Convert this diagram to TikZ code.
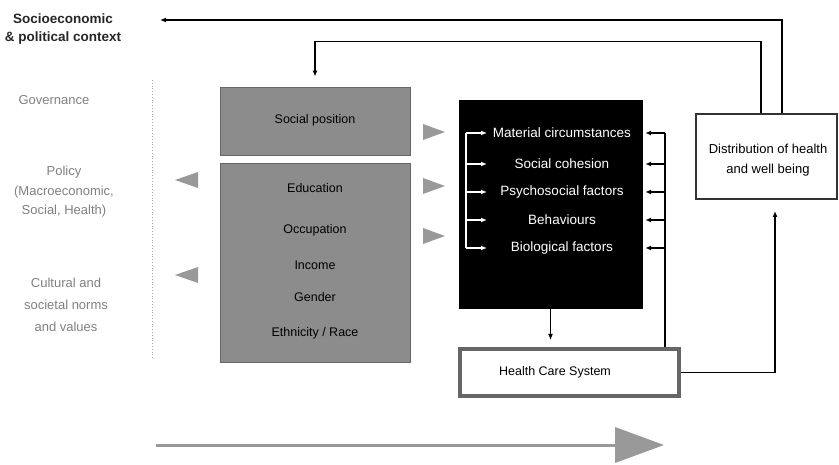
\documentclass[tikz,border=0pt]{standalone}
\usepackage{fontspec}
\setmainfont{Liberation Sans}
\usetikzlibrary{arrows.meta,calc}
\begin{document}
\begin{tikzpicture}[x=1pt,y=-1pt,
  txt/.style={font=\fontsize{12.5}{15}\selectfont, inner sep=0pt},
  wtxt/.style={font=\fontsize{13.5}{15}\selectfont, text=white, inner sep=0pt},
  ctx/.style={font=\fontsize{13}{20}\selectfont, text=black!50, align=center, inner sep=0pt},
  graybox/.style={draw=black!60, fill=black!45, line width=0.8pt, minimum width=190pt, inner sep=0pt},
  conn/.style={draw=black, line width=1.6pt, -{Latex[length=6pt,width=5pt]}},
  plain/.style={draw=black, line width=1.6pt},
  wline/.style={draw=white, line width=1.6pt},
  wconn/.style={draw=white, line width=1.6pt, -{Latex[length=6pt,width=5pt]}},
  tri/.style={fill=black!40},
]
\useasboundingbox (0,0) rectangle (839,465);

% left column
\node[font=\bfseries\fontsize{13.5}{18}\selectfont, text=black!85, align=center, inner sep=0pt] (soc) at (63,29) {Socioeconomic\\\& political context};
\node[ctx] (gov) at (54,100) {Governance};
\node[ctx, font=\fontsize{13}{19.5}\selectfont] (pol) at (64,192) {Policy\\(Macroeconomic,\\Social, Health)};
\node[ctx, font=\fontsize{13}{22}\selectfont] (cul) at (66,305) {Cultural and\\societal norms\\and values};
\draw[black!35, dotted, line width=0.8pt] (152,80) -- (152,360);

% gray boxes
\node[graybox, minimum height=68pt] (sp) at (315,121) {};
\node[txt] (spt) at (315,120) {Social position};
\node[graybox, minimum height=199pt] (sd) at (315,262.5) {};
\node[txt] (edu) at (315,188) {Education};
\node[txt] (occ) at (315,230) {Occupation};
\node[txt] (inc) at (315,265) {Income};
\node[txt] (gen) at (315,297) {Gender};
\node[txt] (eth) at (315,333) {Ethnicity / Race};

% black box
\node[draw=black, fill=black, minimum width=183pt, minimum height=208pt, inner sep=0pt] (bb) at (550.5,204) {};
\node[wtxt] (m1) at (562,133) {Material circumstances};
\node[wtxt] (m2) at (562,164) {Social cohesion};
\node[wtxt] (m3) at (562,192) {Psychosocial factors};
\node[wtxt] (m4) at (562,220) {Behaviours};
\node[wtxt] (m5) at (562,248) {Biological factors};

% distribution box
\node[draw=black!80, line width=2pt, minimum width=141pt, minimum height=85pt, inner sep=0pt] (dist) at (766.5,156.5) {};
\node[txt, align=center, font=\fontsize{13}{20}\selectfont] (distt) at (768,160) {Distribution of health\\and well being};

% health care system
\node[draw=black!60, line width=4pt, fill=white, minimum width=219pt, minimum height=47pt, inner sep=0pt] (hcs) at (569.5,372.5) {};
\node[txt] (hcst) at (555,372) {Health Care System};

% triangles
\foreach \y in {132,186,236} {
  \fill[tri] (423,\y-8) -- (445,\y) -- (423,\y+8) -- cycle;
}
\foreach \y in {180,275} {
  \fill[tri] (198,\y-8) -- (175,\y) -- (198,\y+8) -- cycle;
}

% top feedback lines
\coordinate (tl) at (160,20);
\draw[conn] ([xshift=87pt]dist.north west) |- (tl);
\draw[conn] ([xshift=66pt]dist.north west) |- ([yshift=45pt]sp.north) -- ([yshift=10pt]sp.north);

% black box to health care
\draw[conn] (bb.south) -- ([yshift=7pt]hcs.north -| bb.south);

% right bracket
\coordinate (brx) at (665,133);
\draw[plain] (brx) -- (brx |- hcs.north);
\foreach \m in {m1,m2,m3,m4,m5} {
  \draw[conn] (brx |- \m) -- ([xshift=3pt]bb.east |- \m);
}

% white bracket
\coordinate (wbx) at (466,133);
\draw[wline] (wbx) -- (wbx |- m5);
\foreach \m in {m1,m2,m3,m4,m5} {
  \draw[wconn] (wbx |- \m) -- ([xshift=21pt]wbx |- \m);
}

% health care to distribution
\coordinate (dup) at (775,211);
\draw[conn] (hcs.east) -| (dup);

% bottom arrow
\coordinate (ba) at (156,445);
\coordinate (bb2) at (617,445);
\draw[line width=3pt, draw=black!40] (ba) -- (bb2);
\fill[tri] (615,427) -- (664,445) -- (615,463) -- cycle;
\end{tikzpicture}
\end{document}
